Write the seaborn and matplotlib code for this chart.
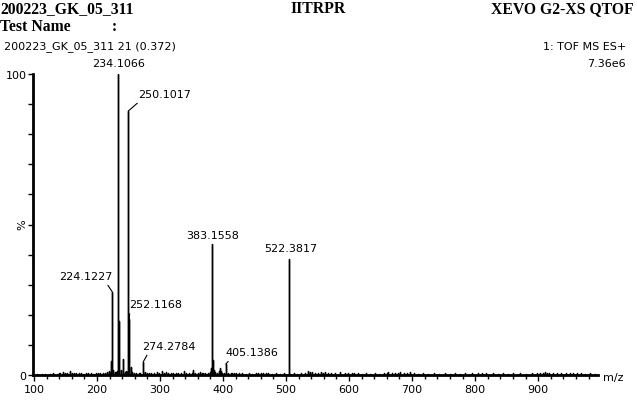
import numpy as np
import pandas as pd
import seaborn as sns
from matplotlib import pyplot as plt
from matplotlib.ticker import MultipleLocator, FixedLocator

PEAK_MZ = [224.3, 233.8, 249.7, 251.3, 273.5, 383.0, 404.3, 504.0]
PEAK_INT = [27.6, 100.0, 87.7, 18.6, 4.4, 43.5, 3.6, 38.5]
PEAK_LABELS = ['224.1227', '234.1066', '250.1017', '252.1168',
               '274.2784', '383.1558', '405.1386', '522.3817']

# unlabelled peaks / baseline noise
NOISE_MZ = [105, 112, 118, 125, 131, 137, 140, 142, 146, 149, 153, 157, 160, 163, 167,
            171, 175, 178, 182, 186, 190, 194, 198, 201, 205, 209, 213, 216, 219, 220,
            222, 226, 228, 230, 232, 235, 238, 241.8, 244, 246, 248, 253.3, 255, 258, 262,
            266, 269, 276, 279, 282, 286, 290, 294.7, 298, 302.6, 306, 309, 313, 317, 321,
            325, 329, 333, 338, 342, 346, 350, 353, 356, 360, 363.5, 366, 369, 372, 376,
            379, 381.5, 384.2, 385.5, 387, 390, 393, 395.2, 396.5, 399, 402, 408, 412, 415,
            418, 421, 425, 430, 436, 441, 446, 452, 456, 460, 464, 468, 472, 478, 484,
            490, 496, 506, 512, 518, 524, 530, 535, 538, 541, 546, 551, 556, 559, 562,
            567, 572, 578, 586, 593, 598, 604, 608, 614, 620, 627, 634, 641, 648, 655,
            660, 662, 668, 673, 677, 681, 687, 692, 697, 703, 710, 718, 726, 734, 742,
            752, 760, 768, 776, 784, 795, 805, 811, 818, 829, 836, 844, 852, 860, 871,
            880, 890, 898, 903, 908, 911, 914, 918, 924, 930, 937, 945, 950, 955, 961,
            968, 975, 982, 990]
NOISE_INT = [0.3, 0.4, 0.3, 0.4, 0.5, 0.4, 0.8, 0.7, 0.9, 0.8, 0.5, 1.4, 0.6, 0.7, 0.5,
             0.8, 0.6, 0.4, 0.7, 0.5, 0.6, 0.4, 0.8, 0.5, 0.6, 0.5, 0.7, 0.9, 1.4, 0.8,
             4.7, 1.6, 0.9, 1.0, 1.2, 18.0, 1.5, 5.2, 1.0, 1.3, 0.9, 2.6, 1.1, 0.7, 0.6,
             0.8, 0.6, 0.9, 0.6, 0.7, 0.5, 0.6, 1.0, 0.7, 1.3, 0.6, 0.9, 0.6, 0.8, 0.7,
             0.5, 0.6, 0.8, 1.2, 0.6, 0.7, 0.8, 1.8, 0.8, 0.6, 1.0, 0.8, 0.6, 0.5, 0.6,
             0.9, 2.2, 5.0, 1.5, 1.0, 0.7, 1.2, 2.2, 1.4, 0.7, 0.8, 0.7, 0.8, 0.8,
             0.6, 0.8, 0.5, 0.6, 0.4, 0.5, 0.4, 0.5, 0.7, 0.8, 0.6, 0.7, 0.5, 0.4, 0.5,
             0.4, 0.5, 0.4, 0.5, 0.4, 0.5, 0.6, 1.2, 0.9, 1.0, 0.5, 0.6, 1.0, 0.8, 0.9,
             0.5, 0.8, 0.5, 0.9, 0.7, 0.5, 0.8, 0.7, 0.5, 0.4, 0.5, 0.4, 0.5, 0.4, 0.5,
             0.8, 1.0, 0.5, 0.8, 0.7, 0.9, 0.5, 0.6, 1.0, 0.5, 0.4, 0.5, 0.4, 0.5, 0.4,
             0.6, 0.4, 0.5, 0.4, 0.5, 0.6, 0.5, 0.8, 0.5, 0.7, 0.4, 0.5, 0.4, 0.5, 0.6,
             0.4, 0.5, 0.5, 0.7, 0.8, 0.9, 0.7, 0.8, 0.7, 0.5, 0.5, 0.8, 0.7, 0.8, 0.7,
             0.5, 0.4, 0.5, 0.4]

X_TICKS = [100, 200, 300, 400, 500, 600, 700, 800, 900]
X_RANGE = (98.5, 995)

# label placement: offset of the text centre from the peak top (pixels), leader start
LABEL_OFFSETS = {'224.1227': (-26, 16, (0.85, 0.0)),
                 '234.1066': (0, 11, None),
                 '250.1017': (36, 17, (0.08, 0.0)),
                 '252.1168': (26, 15, (0.02, 0.0)),
                 '274.2784': (26, 16, (0.13, 0.0)),
                 '383.1558': (0, 9, None),
                 '405.1386': (26, 12, (0.13, 0.0)),
                 '522.3817': (2, 11, None)}


def build_profile():
    peaks = pd.DataFrame({'mz': PEAK_MZ + NOISE_MZ, 'intensity': PEAK_INT + NOISE_INT})
    peaks = peaks.sort_values('mz', ignore_index=True)
    rows = [(X_RANGE[0], 0.0)]
    for mz, h in zip(peaks['mz'], peaks['intensity']):
        rows += [(mz, 0.0), (mz, h), (mz, 0.0)]
    rows.append((X_RANGE[1], 0.0))
    return pd.DataFrame(rows, columns=['m/z', '%'])


def main():
    sns.set_style('ticks')
    plt.rcParams['font.family'] = ['DejaVu Sans']
    plt.rcParams['text.color'] = 'black'
    plt.rcParams['xtick.color'] = 'black'
    plt.rcParams['ytick.color'] = 'black'
    plt.rcParams['xtick.labelcolor'] = 'black'
    plt.rcParams['ytick.labelcolor'] = 'black'

    fig = plt.figure(figsize=(6.37, 4.02), dpi=100)
    ax = fig.add_axes([33 / 637, 26 / 402, 565 / 637, 301 / 402])

    df = build_profile()
    sns.lineplot(data=df, x='m/z', y='%', sort=False, estimator=None,
                 color='black', linewidth=1.0, ax=ax)

    ax.set_xlim(*X_RANGE)
    ax.set_ylim(0, 100)
    ax.set_xlabel('')
    ax.set_ylabel('')
    sns.despine(ax=ax)
    for side in ('left', 'bottom'):
        ax.spines[side].set_linewidth(2)
        ax.spines[side].set_color('black')

    ax.xaxis.set_major_locator(FixedLocator(X_TICKS))
    ax.xaxis.set_minor_locator(MultipleLocator(20))
    ax.tick_params(axis='x', which='major', length=4.5, width=1, pad=2,
                   labelsize=8, color='black', labelcolor='black', direction='out')
    ax.tick_params(axis='x', which='minor', length=3, width=1, color='black', direction='out')

    ax.yaxis.set_major_locator(FixedLocator([0, 100]))
    ax.yaxis.set_minor_locator(MultipleLocator(10))
    ax.tick_params(axis='y', which='both', length=3.5, width=1, pad=1,
                   labelsize=8, color='black', labelcolor='black', direction='out')

    for mz, h, lab in zip(PEAK_MZ, PEAK_INT, PEAK_LABELS):
        dx, dy, relpos = LABEL_OFFSETS[lab]
        arrow = None
        if relpos is not None:
            arrow = dict(arrowstyle='-', color='black', lw=0.8, relpos=relpos,
                         shrinkA=1, shrinkB=0)
        ax.annotate(lab, xy=(mz, h), xytext=(dx, dy), textcoords='offset pixels',
                    ha='center', va='center', fontsize=8, color='black',
                    arrowprops=arrow, annotation_clip=False)

    def fx(px):
        return px / 637

    def fy(py):
        return 1 - py / 402

    serif = dict(family='Liberation Serif', fontweight='bold', fontsize=11.3,
                 va='center', color='black')
    fig.text(fx(0), fy(9), '200223_GK_05_311', ha='left', **serif)
    fig.text(fx(318), fy(9), 'IITRPR', ha='center', **serif)
    fig.text(fx(634), fy(9), 'XEVO G2-XS QTOF', ha='right', **serif)
    fig.text(fx(0), fy(27), 'Test Name', ha='left', **serif)
    fig.text(fx(112), fy(27), ':', ha='left', **serif)

    sans = dict(fontsize=8, va='center', color='black')
    fig.text(fx(4), fy(47), '200223_GK_05_311 21 (0.372)', ha='left', **sans)
    fig.text(fx(626), fy(47), '1: TOF MS ES+', ha='right', **sans)
    fig.text(fx(626), fy(64), '7.36e6', ha='right', **sans)
    fig.text(fx(22), fy(225), '%', ha='center', rotation=90, **sans)
    fig.text(fx(603), fy(378), 'm/z', ha='left', **sans)

    fig.savefig('out.png', dpi=100)


if __name__ == '__main__':
    main()
